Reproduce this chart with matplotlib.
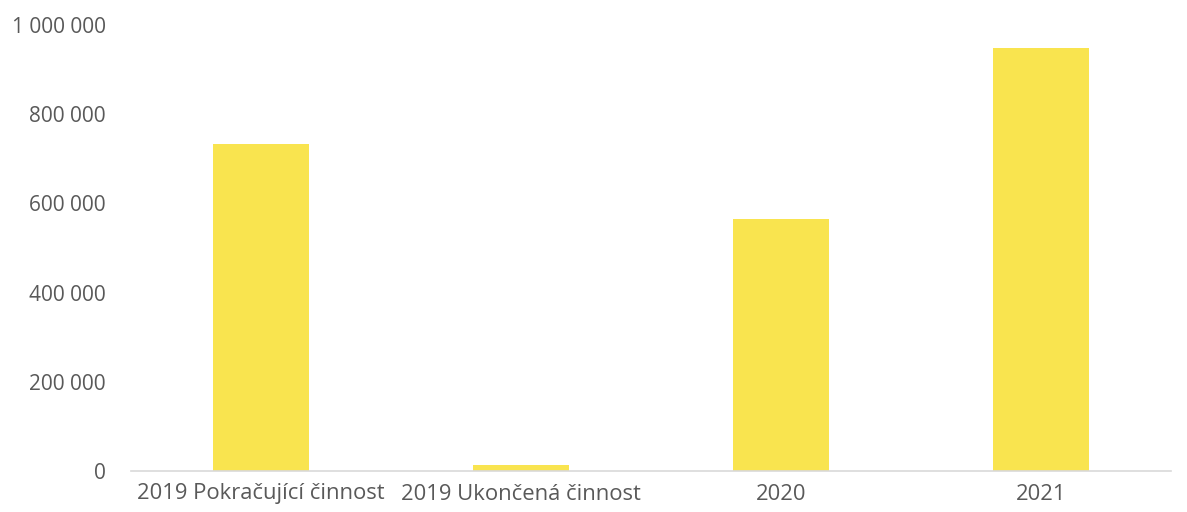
import numpy as np
import matplotlib.pyplot as plt
from matplotlib.ticker import FuncFormatter

categories = ["2019 Pokračující činnost", "2019 Ukončená činnost", "2020", "2021"]
values = [733000, 13000, 566000, 948000]

plt.rcParams['font.family'] = ['Open Sans', 'DejaVu Sans']

fig = plt.figure(figsize=(11.87, 5.12), dpi=100)
ax = fig.add_axes([131 / 1187, 1 - 471 / 512, 1040 / 1187, 446 / 512])

x = np.arange(len(categories))
ax.bar(x, values, width=0.37, color='#F9E44F')

ax.set_xlim(-0.5, len(categories) - 0.5)
ax.set_ylim(0, 1000000)
ax.set_yticks(np.arange(0, 1000001, 200000))
ax.yaxis.set_major_formatter(FuncFormatter(lambda v, p: f"{int(v):,}".replace(",", " ")))
ax.set_xticks(x)
ax.set_xticklabels(categories)

for s in ['top', 'right', 'left']:
    ax.spines[s].set_visible(False)
ax.spines['bottom'].set_color('#d9d9d9')
ax.spines['bottom'].set_linewidth(1.2)
ax.tick_params(axis='both', length=0, colors='#595959')
ax.tick_params(axis='y', labelsize=15, pad=18)
ax.tick_params(axis='x', labelsize=15.8, pad=9)

fig.savefig('out.png', dpi=100)
